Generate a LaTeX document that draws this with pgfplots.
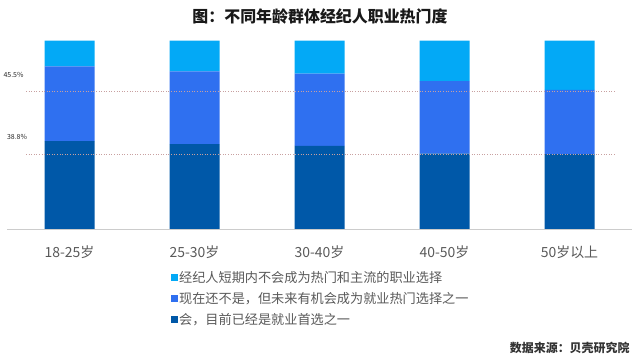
\documentclass[border=0pt]{standalone}
\usepackage{pgfplots}
\pgfplotsset{compat=1.18}
\usepackage{fontspec}
\setmainfont{Noto Sans CJK SC}
\definecolor{cLight}{HTML}{03A9F6}
\definecolor{cMid}{HTML}{2F70F0}
\definecolor{cDark}{HTML}{0058A8}
\definecolor{tickgray}{HTML}{595959}
\definecolor{refline}{HTML}{C8A0A0}
\begin{document}
\begin{tikzpicture}[x=1bp,y=1bp]
\useasboundingbox (0,0) rectangle (640,360);
\node[font=\fontsize{16}{18}\selectfont\bfseries, text=black!90] at (320,344) {图：不同年龄群体经纪人职业热门度};
\node[font=\fontsize{12}{14}\selectfont\bfseries, text=black!80, anchor=east] at (633,12) {数据来源：贝壳研究院};
\begin{axis}[
  at={(7bp,130.7bp)}, anchor=south west,
  scale only axis, width=625bp, height=188.6bp,
  xmin=-0.5, xmax=4.5, ymin=0, ymax=100,
  ybar stacked, bar width=50bp,
  clip=false,
  axis line style={draw=none},
  tick style={draw=none},
  ytick=\empty,
  xtick={0,1,2,3,4},
  xticklabels={18-25岁,25-30岁,30-40岁,40-50岁,50岁以上},
  xticklabel style={font=\fontsize{14}{16}\selectfont, text=tickgray, yshift=-13bp},
  legend style={draw=none, fill=none, at={(0.262,-0.215)}, anchor=north west,
    font=\fontsize{13.2}{15}\selectfont, text=tickgray,
    row sep=6.5bp, inner sep=0pt,
    nodes={inner sep=1pt}},
  legend cell align=left,
  reverse legend,
  legend image code/.code={\fill[#1,draw=none] (0bp,-3.6bp) rectangle (7.2bp,3.6bp);},
]
\draw[refline, dotted, line width=0.6pt] (axis cs:-0.348,73.0) -- (axis cs:4.36,73.0);
\draw[refline, dotted, line width=0.6pt] (axis cs:-0.348,39.8) -- (axis cs:4.36,39.8);
\node[font=\fontsize{7}{8}\selectfont, text=black!85] at (axis cs:-0.448,81.8) {45.5\%};
\node[font=\fontsize{7}{8}\selectfont, text=black!85] at (axis cs:-0.42,48.9) {38.8\%};
\draw[black!20, line width=0.8pt] (axis cs:-0.5,0) -- (axis cs:4.5,0);
\addplot[fill=cDark, draw=none] coordinates {(0,46.8) (1,45.1) (2,44.2) (3,40.1) (4,39.8)};
\addlegendentry{会，目前已经是就业首选之一}
\addplot[fill=cMid, draw=none] coordinates {(0,39.6) (1,38.7) (2,38.3) (3,38.4) (4,34.1)};
\addlegendentry{现在还不是，但未来有机会成为就业热门选择之一}
\addplot[fill=cLight, draw=none] coordinates {(0,13.6) (1,16.2) (2,17.5) (3,21.5) (4,26.1)};
\addlegendentry{经纪人短期内不会成为热门和主流的职业选择}
\end{axis}
\end{tikzpicture}
\end{document}
